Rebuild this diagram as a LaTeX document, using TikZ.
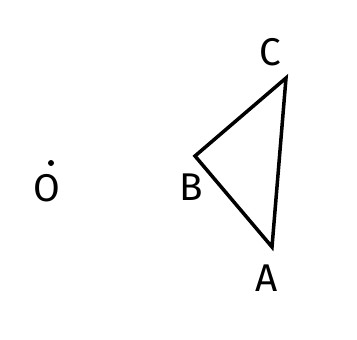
\documentclass[tikz,border=0pt]{standalone}
\usepackage{fontspec}
\setsansfont{Fira Sans}
\usetikzlibrary{calc}
\tikzset{
  triangle line/.style={line width=2pt,black,line join=miter},
  vertex label/.style={font=\sffamily\fontsize{22}{22}\selectfont,inner sep=0pt},
  centre dot/.style={fill=black,draw=none},
}
\begin{document}
\begin{tikzpicture}[x=0.02cm,y=-0.02cm]
\useasboundingbox (0,0) rectangle (357,339);
% vertices
\coordinate (A) at (272,247);
\coordinate (B) at (195,156);
\coordinate (C) at (286,78);
\coordinate (O) at (51,163);
\draw[triangle line] (A) -- (B) -- (C) -- cycle;
\fill[centre dot] (O) circle (3);
% labels
\node[vertex label] (lblA) at (267,278) {A};
\node[vertex label] (lblB) at (191,187) {B};
\node[vertex label] (lblC) at (270,52) {C};
\node[vertex label] (lblO) at (47,188) {O};
\end{tikzpicture}
\end{document}
